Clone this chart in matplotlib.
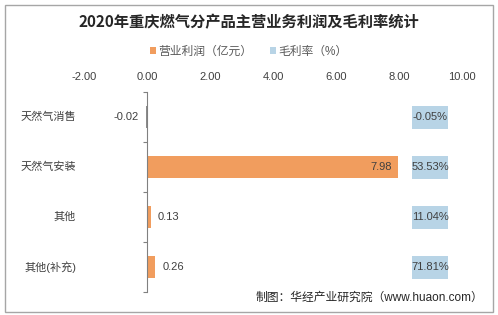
import matplotlib
matplotlib.use("Agg")
import matplotlib.pyplot as plt
from matplotlib.patches import Rectangle, Patch
from matplotlib.transforms import blended_transform_factory
import numpy as np

plt.rcParams['font.family'] = ['Liberation Sans', 'Noto Sans CJK SC', 'DejaVu Sans']

title = "2020年重庆燃气分产品主营业务利润及毛利率统计"
categories = ["天然气消售", "天然气安装", "其他", "其他(补充)"]
profit = [-0.02, 7.98, 0.13, 0.26]
margin = [-0.05, 53.53, 11.04, 71.81]
series_names = ["营业利润（亿元）", "毛利率（%）"]
x_ticks = [-2, 0, 2, 4, 6, 8, 10]
source = "制图：华经产业研究院（www.huaon.com）"

orange = "#F19D5E"
blue = "#B8D4E6"
txt = "#404040"

W, H = 498, 315
fig = plt.figure(figsize=(W / 100, H / 100), dpi=100)

def fx(px):
    return px / W

def fy(py):
    return 1 - py / H

# outer frame
fig.patches.append(Rectangle((fx(5), fy(312)), fx(488), 307 / H, transform=fig.transFigure,
                             fill=False, edgecolor="#A6A6A6", linewidth=1.0))

ax = fig.add_axes([fx(84), fy(292), fx(378), 200 / H])
y = np.arange(len(categories))
bar_colors = [orange if v >= 0 else "#8C8C8C" for v in profit]
ax.barh(y, profit, height=0.45, color=bar_colors, zorder=2)
ax.set_xlim(x_ticks[0], x_ticks[-1])
ax.set_ylim(len(categories) - 0.5, -0.5)

for s in ["top", "right", "bottom"]:
    ax.spines[s].set_visible(False)
ax.spines["left"].set_position(("data", 0))
ax.spines["left"].set_color("#808080")
ax.spines["left"].set_zorder(3)

ax.xaxis.tick_top()
ax.set_xticks(x_ticks)
ax.set_xticklabels([f"{v:.2f}" for v in x_ticks], fontsize=8, color=txt)
ax.tick_params(axis="x", length=0, pad=7)
ax.set_yticks(np.arange(-0.5, len(categories), 1.0))
ax.set_yticklabels([])
ax.tick_params(axis="y", length=3, direction="out", color="#808080")

bt = blended_transform_factory(ax.transAxes, ax.transData)
for i, c in enumerate(categories):
    ax.text(-0.021, i, c, transform=bt, ha="right", va="center", fontsize=8, color=txt)

# value labels
for i, v in enumerate(profit):
    if v < 0:
        ax.annotate(f"{v:.2f}", (0, i), xytext=(-6, 0), textcoords="offset points",
                    ha="right", va="center", fontsize=8, color=txt)
    elif v > 2:
        ax.annotate(f"{v:.2f}", (v, i), xytext=(-5, 0), textcoords="offset points",
                    ha="right", va="center", fontsize=8, color=txt)
    else:
        ax.annotate(f"{v:.2f}", (v, i), xytext=(5, 0), textcoords="offset points",
                    ha="left", va="center", fontsize=8, color=txt)

# margin labels with light blue boxes
box_x0 = (412 - 84) / 378
box_w = 36 / 378
for i, m in enumerate(margin):
    ax.add_patch(Rectangle((box_x0, i - 0.23), box_w, 0.46, transform=bt,
                           facecolor=blue, edgecolor="none", zorder=2, clip_on=False))
    ax.text(box_x0 + box_w / 2, i, f"{m:.2f}%", transform=bt, ha="center", va="center",
            fontsize=8, color=txt, zorder=4)

fig.text(fx(249), fy(22), title, ha="center", va="center", fontsize=11,
         fontweight="bold", color="#262626", family=['Noto Sans CJK SC', 'DejaVu Sans'])

handles = [Patch(facecolor=orange), Patch(facecolor=blue)]
fig.legend(handles, series_names, loc="center", bbox_to_anchor=(fx(249), fy(52)), ncol=2,
           frameon=False, fontsize=8.5, handlelength=0.5, handleheight=0.5,
           handletextpad=0.2, columnspacing=1.5, labelcolor="#595959")

fig.text(fx(483), fy(298), source, ha="right", va="center", fontsize=8.5, color="#262626")

fig.savefig("out.png", dpi=100)
